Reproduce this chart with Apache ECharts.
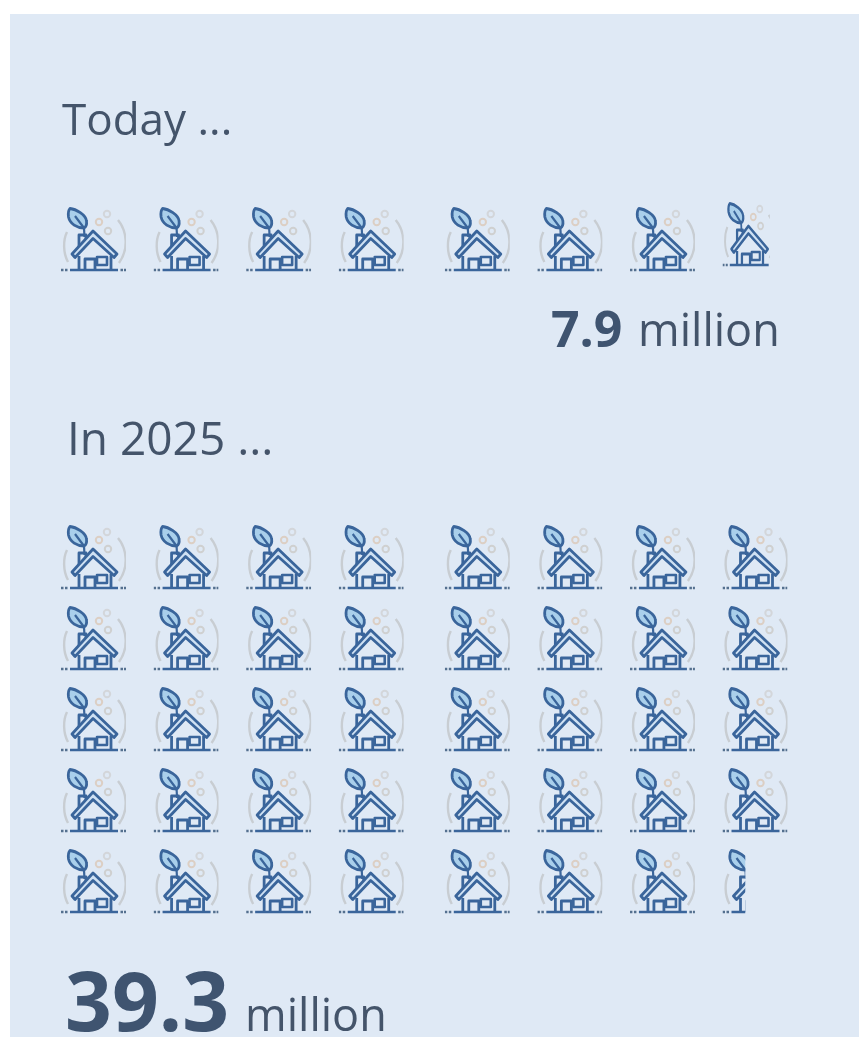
<!DOCTYPE html>
<html><head><meta charset="utf-8">
<style>html,body{margin:0;padding:0;background:#fff}#c{width:859px;height:1037px}</style>
<script src="https://cdn.jsdelivr.net/npm/echarts@6/dist/echarts.min.js"></script>
</head><body><div id="c"></div>
<script>
// Data: each house is one million homes; the value is how much of that house is shown.
const todayHouses = [1,1,1,1,1,1,1,0.9];
const future2025Houses = [
  1,1,1,1,1,1,1,1,
  1,1,1,1,1,1,1,1,
  1,1,1,1,1,1,1,1,
  1,1,1,1,1,1,1,1,
  1,1,1,1,1,1,1,0.35
];
const headings = ['Today ...', 'In 2025 ...'];
const totals = ['7.9', '39.3'];
const unit = 'million';

const PER_ROW = 8, BOX = 65;
const DARK = '#3a659b', LEAF = '#a9cfeb', ROOF = '#cfe1f3', GREY = '#c8cdd2', INK = '#44546a';

function glyph() {
  const p = (d, s) => ({type:'path', shape:{pathData:d}, style:Object.assign({fill:'none', stroke:DARK, lineWidth:2.8, lineJoin:'round'}, s||{})});
  const ring = (x,y,c) => ({type:'circle', shape:{cx:x,cy:y,r:3.2}, style:{fill:'none', stroke:c, lineWidth:2}});
  return [
    p('M6,25 C2,33 2,46 7,55', {stroke:GREY, lineWidth:2.4}),
    p('M57,13 C66,24 68,42 58,56', {stroke:GREY, lineWidth:2.4}),
    ring(46,7,'#d3d6da'), ring(38,15,'#dccfc4'), ring(47,24,'#cfd0d0'),
    p('M9,1.5 C15,2 25,8 25.5,14 C26,18 25,20 23,21 C16,21 9,17 7.5,10 C7,6 7.5,3 9,1.5Z', {fill:LEAF}),
    p('M14,9 L23,21 L23.5,30', {lineWidth:2.2}),
    p('M18,42 V28 H25 V35'),
    p('M18,49 V63 M50,49 V63 M24,63 V52 H34 V63'),
    p('M36,50 H46 V58 H36Z', {lineWidth:2.6}),
    p('M11,47 L32,24 L56,47 L53,50.5 L32,31.5 L14,50.5Z', {fill:ROOF}),
    p('M9,63 H57', {lineWidth:2.6}),
    p('M0,63 H2.5 M4,63 H6.5 M59.5,63 H62 M63,63 H65', {lineWidth:2.4, stroke:'#54708f'})
  ];
}

function toPoints(list) {
  return list.map((v,i) => [i % PER_ROW, Math.floor(i / PER_ROW), v]);
}

function render(params, api) {
  const col = api.value(0), row = api.value(1), shown = api.value(2);
  const pt = api.coord([col, row]);
  const partialToday = params.seriesIndex === 0 && shown < 1;
  return {
    type:'group',
    x: pt[0] + (col >= PER_ROW/2 ? 13.5 : 0),
    y: pt[1] - (partialToday ? 5 : 0),
    scaleX: partialToday ? 0.81 : 1,
    clipPath: {type:'rect', shape:{x:0, y:-2, width:BOX*shown, height:BOX+2}},
    children: glyph()
  };
}

const normal = (size) => ({fontFamily:'Open Sans', fontWeight:'normal', fontSize:size, color:INK});
const bold = (size) => ({fontFamily:'Open Sans', fontWeight:'bold', fontSize:size, color:'#3f5470'});

const option = {
  animation:false,
  backgroundColor:'#ffffff',
  graphic:[{type:'rect', z:-10, silent:true, shape:{x:10,y:14,width:849,height:1023}, style:{fill:'#dfe9f5'}}],
  title:[
    {text:headings[0], left:57, top:95, textStyle:normal(44)},
    {text:headings[1], left:62, top:414, textStyle:normal(46)},
    {text:totals[0], left:546, top:303, textStyle:bold(50)},
    {text:unit, left:633, top:306, textStyle:normal(45)},
    {text:totals[1], left:60, top:962, textStyle:bold(82)},
    {text:unit, left:240, top:991, textStyle:normal(45)}
  ],
  grid:[
    {left:61, top:207, width:648, height:81},
    {left:61, top:525, width:648, height:324}
  ],
  xAxis:[
    {type:'value', gridIndex:0, min:0, max:7, show:false},
    {type:'value', gridIndex:1, min:0, max:7, show:false}
  ],
  yAxis:[
    {type:'value', gridIndex:0, min:0, max:1, inverse:true, show:false},
    {type:'value', gridIndex:1, min:0, max:4, inverse:true, show:false}
  ],
  series:[
    {type:'custom', xAxisIndex:0, yAxisIndex:0, silent:true, clip:false, renderItem:render, data:toPoints(todayHouses)},
    {type:'custom', xAxisIndex:1, yAxisIndex:1, silent:true, clip:false, renderItem:render, data:toPoints(future2025Houses)}
  ]
};
echarts.init(document.getElementById('c'), null, {renderer:'canvas'}).setOption(option);
</script></body></html>
